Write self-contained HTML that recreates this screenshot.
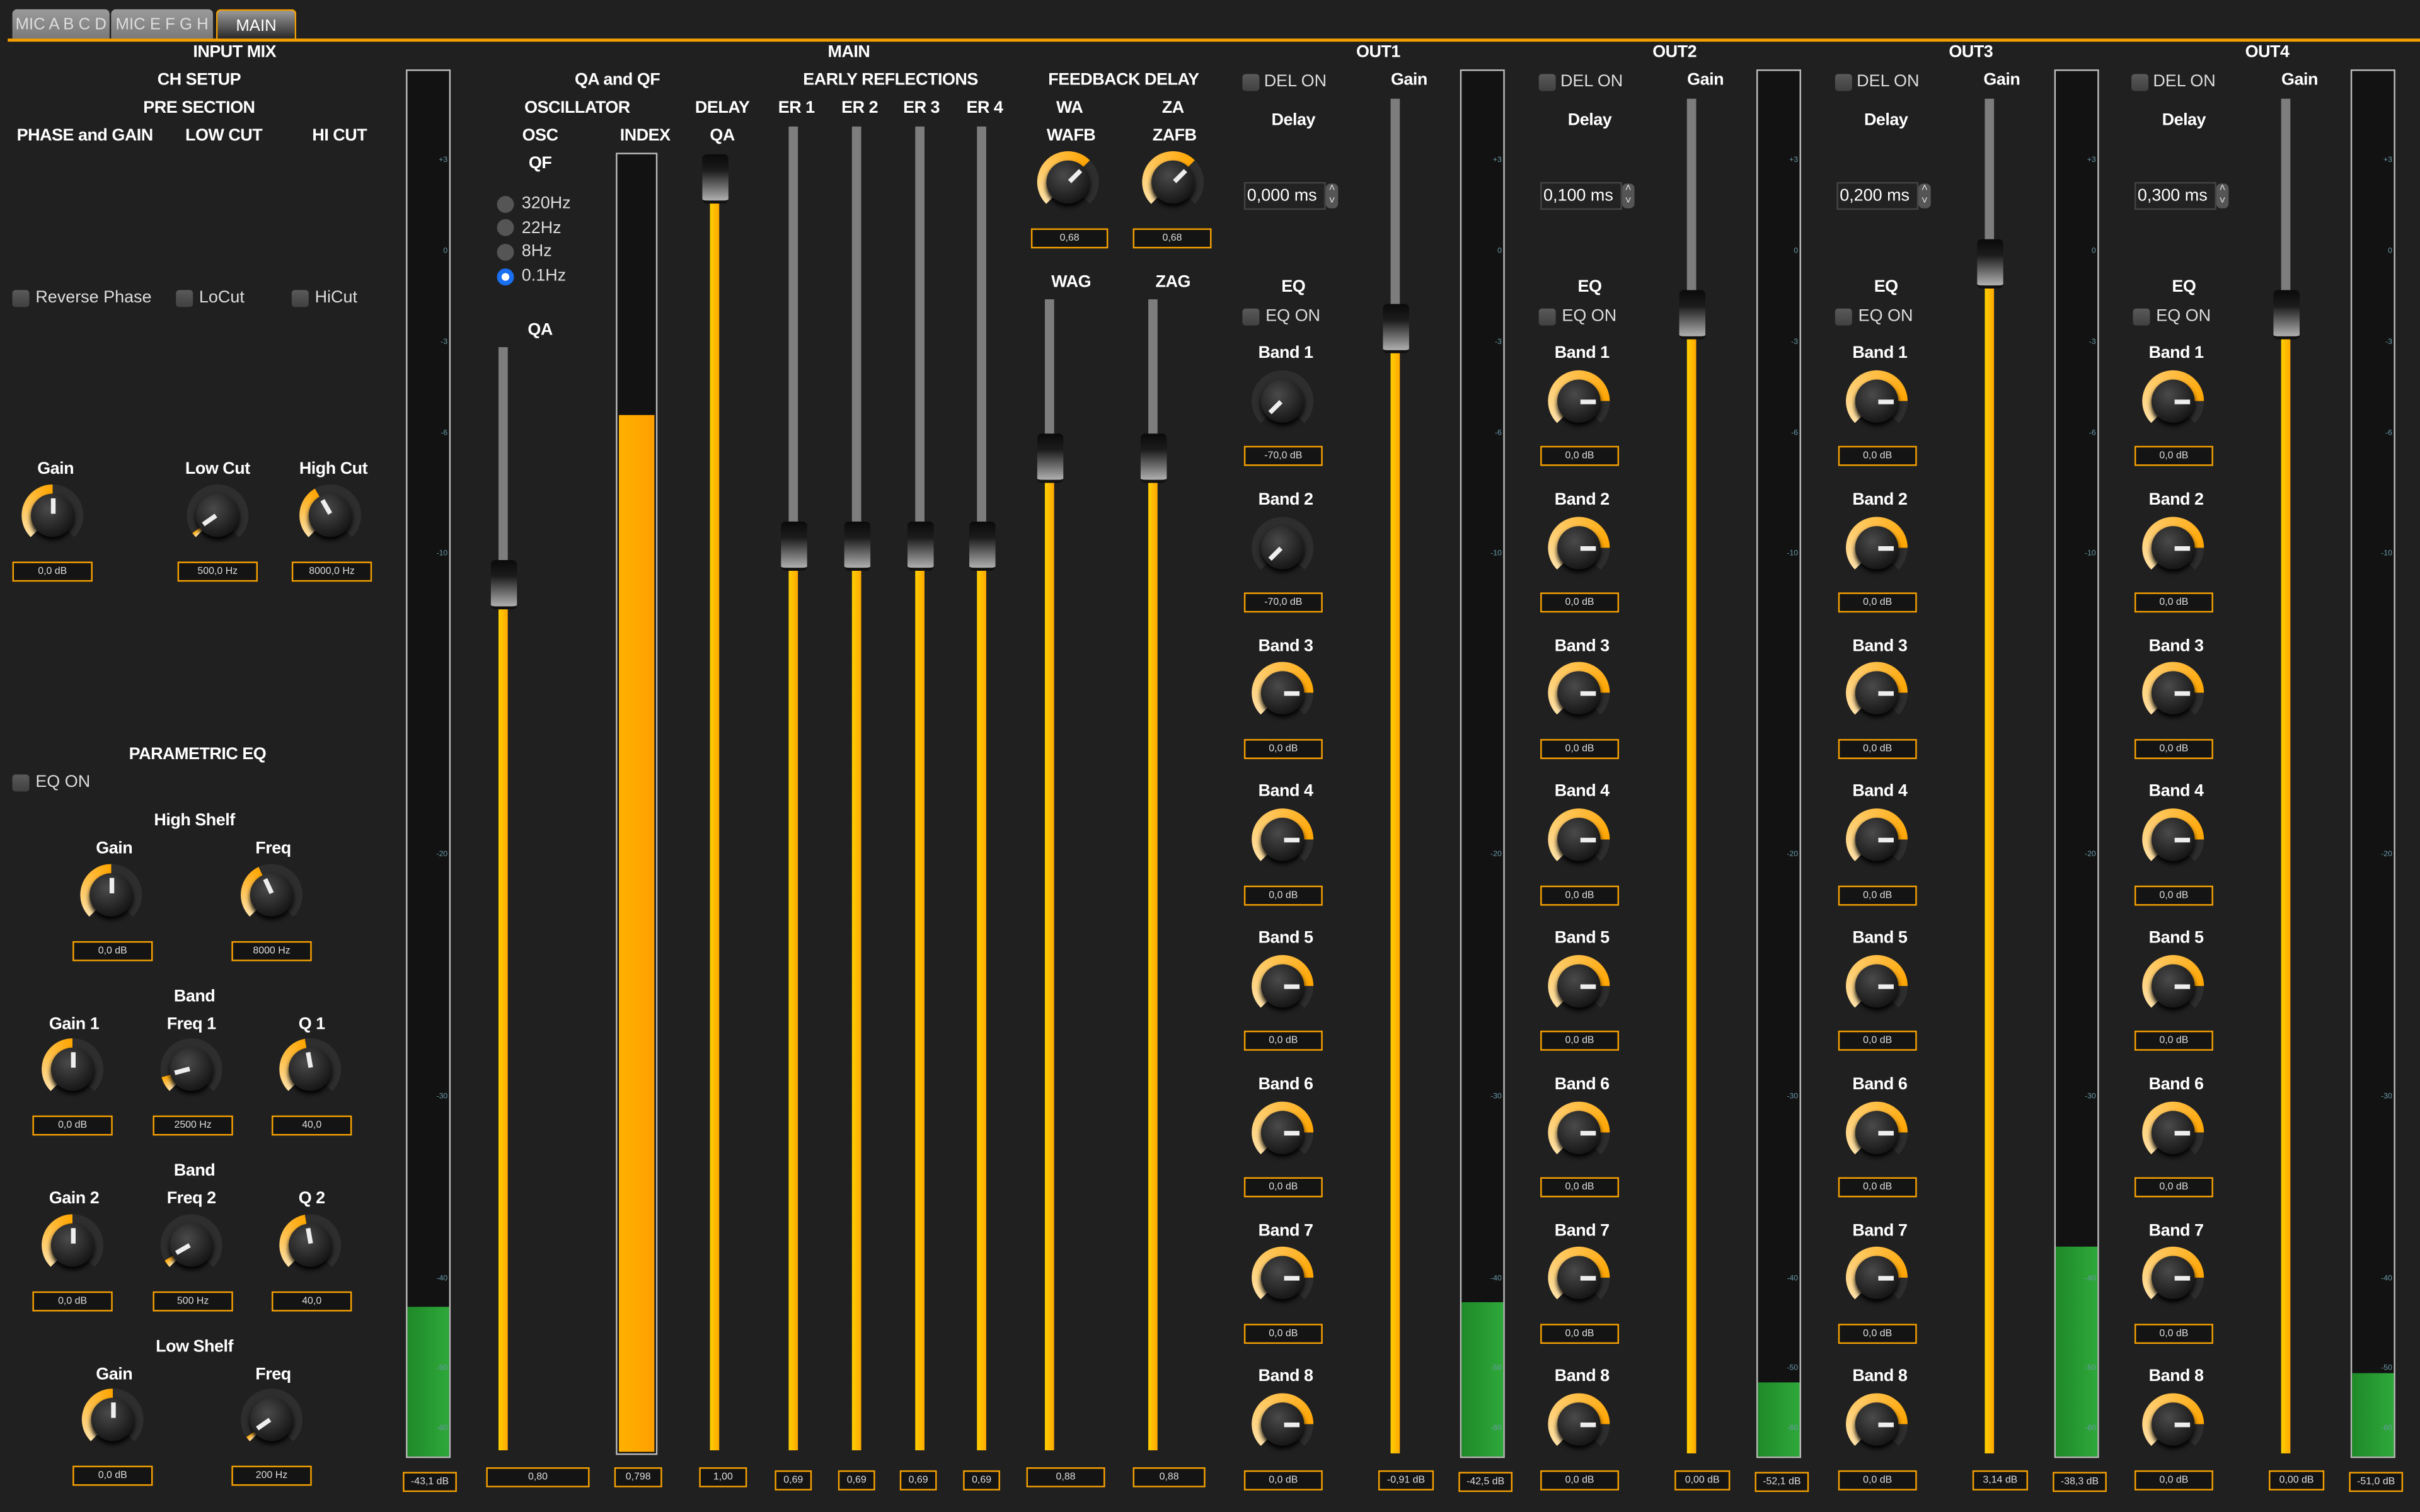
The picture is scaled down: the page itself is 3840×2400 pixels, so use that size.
<!DOCTYPE html>
<html><head><meta charset="utf-8"><style>
html,body{margin:0;padding:0;background:#202020;overflow:hidden}
#r{position:absolute;left:0;top:0;width:1568px;height:980px;transform:scale(2.449);transform-origin:0 0;background:#202020;font-family:"Liberation Sans",sans-serif;color:#fff}
#r div,#r span{position:absolute}
.l{transform:translate(-50%,-50%);font-weight:bold;font-size:11px;white-space:nowrap;letter-spacing:-0.2px}
.b{border:1px solid #f5a000;background:#141414;height:11px;font-size:6.5px;line-height:11px;text-align:center;color:#ddd}
.c{width:11px;height:11px;border-radius:2px;background:linear-gradient(#5a5a5a,#404040)}
.ct{font-size:11px;color:#ddd;white-space:nowrap}
.k{width:40px;height:40px;margin:-20px 0 0 -20px;border-radius:50%;background:conic-gradient(from 225deg,#ffe2a8 0deg,#ffa500 var(--a),#2e2e2e var(--a),#2e2e2e 270deg,transparent 270deg)}
.k::before{content:"";position:absolute;left:6px;top:6px;width:28px;height:28px;border-radius:50%;background:radial-gradient(circle at 40% 35%,#4a4a4a,#161616 75%);box-shadow:0 2px 3px #000}
.k i{position:absolute;left:0;top:0;width:40px;height:40px;transform:rotate(var(--r))}
.k i::after{content:"";position:absolute;left:18.5px;top:9px;width:3px;height:10px;background:#eee}
.tr{width:6px;background:#7d7d7d}
.or{width:6px;background:linear-gradient(90deg,#ffd000,#ffa800)}
.th{width:17px;height:30px;border-radius:3px;background:linear-gradient(#0a0a0a 0%,#1c1c1c 35%,#b0b0b0 100%);border-bottom:2px solid #111}
.m{top:45px;width:29px;height:900px;border:1px solid #bbb;background:#121212;box-sizing:border-box}
.g{left:0;right:0;bottom:0;background:linear-gradient(90deg,#1e8a28,#2fa83a)}
.s{right:1px;font-size:5px;color:#6a9aa8}
.tab{top:6px;height:19px;border-radius:3px 3px 0 0;font-size:10.5px;line-height:21px;text-align:center;color:#ddd;background:linear-gradient(#9a9a9a,#7a7a7a)}
.rb{width:11px;height:11px;border-radius:50%;background:#555}
.sp{height:16px;border:1px solid #444;background:#222;font-size:11px;line-height:16px;color:#fff;padding-left:1px}
</style></head><body><div id="r">
<!-- tabs -->
<div class="tab" style="left:8px;width:63px">MIC A B C D</div>
<div class="tab" style="left:72px;width:66px">MIC E F G H</div>
<div class="tab" style="left:140px;width:50px;border:1px solid #f5a000;border-bottom:none;background:linear-gradient(#9a9a9a,#222);color:#fff">MAIN</div>
<div style="left:5px;top:25px;width:1563px;height:1.5px;background:#f5a000"></div>

<!-- INPUT MIX -->
<div class="l" style="left:152px;top:34px">INPUT MIX</div>
<div class="l" style="left:129px;top:52px">CH SETUP</div>
<div class="l" style="left:129px;top:70px">PRE SECTION</div>
<div class="l" style="left:55px;top:88px">PHASE and GAIN</div>
<div class="l" style="left:145px;top:88px">LOW CUT</div>
<div class="l" style="left:220px;top:88px">HI CUT</div>
<div class="c" style="left:8px;top:188px"></div><div class="ct" style="left:23px;top:187px">Reverse Phase</div>
<div class="c" style="left:114px;top:188px"></div><div class="ct" style="left:129px;top:187px">LoCut</div>
<div class="c" style="left:189px;top:188px"></div><div class="ct" style="left:204px;top:187px">HiCut</div>
<div class="l" style="left:36px;top:304px">Gain</div>
<div class="l" style="left:141px;top:304px">Low Cut</div>
<div class="l" style="left:216px;top:304px">High Cut</div>
<div class="k" style="left:34px;top:334px;--a:135deg;--r:0deg"><i></i></div>
<div class="k" style="left:141px;top:334px;--a:10deg;--r:-125deg"><i></i></div>
<div class="k" style="left:214px;top:334px;--a:105deg;--r:-30deg"><i></i></div>
<div class="b" style="left:8px;top:364px;width:50px">0,0 dB</div>
<div class="b" style="left:115px;top:364px;width:50px">500,0 Hz</div>
<div class="b" style="left:189px;top:364px;width:50px">8000,0 Hz</div>

<div class="l" style="left:128px;top:489px">PARAMETRIC EQ</div>
<div class="c" style="left:8px;top:502px"></div><div class="ct" style="left:23px;top:501px">EQ ON</div>
<div class="l" style="left:126px;top:532px">High Shelf</div>
<div class="l" style="left:74px;top:550px">Gain</div>
<div class="l" style="left:177px;top:550px">Freq</div>
<div class="k" style="left:72px;top:580px;--a:135deg;--r:0deg"><i></i></div>
<div class="k" style="left:176px;top:580px;--a:110deg;--r:-25deg"><i></i></div>
<div class="b" style="left:47px;top:610px;width:50px">0,0 dB</div>
<div class="b" style="left:150px;top:610px;width:50px">8000 Hz</div>

<div class="l" style="left:126px;top:646px">Band</div>
<div class="l" style="left:48px;top:664px">Gain 1</div>
<div class="l" style="left:124px;top:664px">Freq 1</div>
<div class="l" style="left:202px;top:664px">Q 1</div>
<div class="k" style="left:47px;top:693px;--a:135deg;--r:0deg"><i></i></div>
<div class="k" style="left:124px;top:693px;--a:30deg;--r:-105deg"><i></i></div>
<div class="k" style="left:201px;top:693px;--a:125deg;--r:-10deg"><i></i></div>
<div class="b" style="left:21px;top:723px;width:50px">0,0 dB</div>
<div class="b" style="left:99px;top:723px;width:50px">2500 Hz</div>
<div class="b" style="left:176px;top:723px;width:50px">40,0</div>

<div class="l" style="left:126px;top:759px">Band</div>
<div class="l" style="left:48px;top:777px">Gain 2</div>
<div class="l" style="left:124px;top:777px">Freq 2</div>
<div class="l" style="left:202px;top:777px">Q 2</div>
<div class="k" style="left:47px;top:807px;--a:135deg;--r:0deg"><i></i></div>
<div class="k" style="left:124px;top:807px;--a:15deg;--r:-120deg"><i></i></div>
<div class="k" style="left:201px;top:807px;--a:125deg;--r:-10deg"><i></i></div>
<div class="b" style="left:21px;top:837px;width:50px">0,0 dB</div>
<div class="b" style="left:99px;top:837px;width:50px">500 Hz</div>
<div class="b" style="left:176px;top:837px;width:50px">40,0</div>

<div class="l" style="left:126px;top:873px">Low Shelf</div>
<div class="l" style="left:74px;top:891px">Gain</div>
<div class="l" style="left:177px;top:891px">Freq</div>
<div class="k" style="left:73px;top:920px;--a:135deg;--r:0deg"><i></i></div>
<div class="k" style="left:176px;top:920px;--a:10deg;--r:-125deg"><i></i></div>
<div class="b" style="left:47px;top:950px;width:50px">0,0 dB</div>
<div class="b" style="left:150px;top:950px;width:50px">200 Hz</div>

<!-- meter 1 -->
<div class="m" style="left:263px"><div class="g" style="top:801px"></div>
<span class="s" style="top:55px">+3</span><span class="s" style="top:114px">0</span><span class="s" style="top:173px">-3</span><span class="s" style="top:232px">-6</span><span class="s" style="top:310px">-10</span><span class="s" style="top:505px">-20</span><span class="s" style="top:662px">-30</span><span class="s" style="top:780px">-40</span><span class="s" style="top:838px">-50</span><span class="s" style="top:877px">-60</span></div>
<div class="b" style="left:261px;top:954px;width:33px">-43,1 dB</div>

<!-- MAIN -->
<div class="l" style="left:550px;top:34px">MAIN</div>
<div class="l" style="left:400px;top:52px">QA and QF</div>
<div class="l" style="left:374px;top:70px">OSCILLATOR</div>
<div class="l" style="left:468px;top:70px">DELAY</div>
<div class="l" style="left:577px;top:52px">EARLY REFLECTIONS</div>
<div class="l" style="left:728px;top:52px">FEEDBACK DELAY</div>
<div class="l" style="left:516px;top:70px">ER 1</div>
<div class="l" style="left:557px;top:70px">ER 2</div>
<div class="l" style="left:597px;top:70px">ER 3</div>
<div class="l" style="left:638px;top:70px">ER 4</div>
<div class="l" style="left:693px;top:70px">WA</div>
<div class="l" style="left:760px;top:70px">ZA</div>
<div class="l" style="left:350px;top:88px">OSC</div>
<div class="l" style="left:418px;top:88px">INDEX</div>
<div class="l" style="left:468px;top:88px">QA</div>
<div class="l" style="left:694px;top:88px">WAFB</div>
<div class="l" style="left:761px;top:88px">ZAFB</div>
<div class="l" style="left:350px;top:106px">QF</div>
<div class="rb" style="left:322px;top:127px"></div><div class="ct" style="left:338px;top:126px">320Hz</div>
<div class="rb" style="left:322px;top:142px"></div><div class="ct" style="left:338px;top:142px">22Hz</div>
<div class="rb" style="left:322px;top:158px"></div><div class="ct" style="left:338px;top:157px">8Hz</div>
<div class="rb" style="left:322px;top:174px;background:#1a6ff0;box-sizing:border-box;border:3.5px solid #1a6ff0;background-color:#fff"></div><div class="ct" style="left:338px;top:173px">0.1Hz</div>
<div class="l" style="left:350px;top:214px">QA</div>
<div class="tr" style="left:323px;top:225px;height:140px"></div>
<div class="or" style="left:323px;top:393px;height:547px"></div>
<div class="th" style="left:318px;top:363px"></div>
<div class="b" style="left:315px;top:951px;width:65px">0,80</div>
<div style="left:399px;top:99px;width:27px;height:844px;border:1px solid #bbb;box-sizing:border-box;background:#121212"><div style="left:1px;right:1px;bottom:1px;top:169px;background:linear-gradient(90deg,#ffb000,#ffa000)"></div></div>
<div class="b" style="left:398px;top:951px;width:29px">0,798</div>
<div class="or" style="left:460px;top:130px;height:810px"></div>
<div class="th" style="left:455px;top:100px"></div>
<div class="b" style="left:453px;top:951px;width:29px">1,00</div>
<div class="tr" style="left:511px;top:82px;height:258px"></div><div class="or" style="left:511px;top:368px;height:572px"></div><div class="th" style="left:506px;top:338px"></div>
<div class="tr" style="left:552px;top:82px;height:258px"></div><div class="or" style="left:552px;top:368px;height:572px"></div><div class="th" style="left:547px;top:338px"></div>
<div class="tr" style="left:593px;top:82px;height:258px"></div><div class="or" style="left:593px;top:368px;height:572px"></div><div class="th" style="left:588px;top:338px"></div>
<div class="tr" style="left:633px;top:82px;height:258px"></div><div class="or" style="left:633px;top:368px;height:572px"></div><div class="th" style="left:628px;top:338px"></div>
<div class="b" style="left:502px;top:953px;width:22px">0,69</div>
<div class="b" style="left:543px;top:953px;width:22px">0,69</div>
<div class="b" style="left:583px;top:953px;width:22px">0,69</div>
<div class="b" style="left:624px;top:953px;width:22px">0,69</div>
<div class="k" style="left:692px;top:118px;--a:180deg;--r:45deg"><i></i></div>
<div class="k" style="left:760px;top:118px;--a:180deg;--r:45deg"><i></i></div>
<div class="b" style="left:668px;top:148px;width:48px">0,68</div>
<div class="b" style="left:734px;top:148px;width:49px">0,68</div>
<div class="l" style="left:694px;top:183px">WAG</div>
<div class="l" style="left:760px;top:183px">ZAG</div>
<div class="tr" style="left:677px;top:194px;height:89px"></div><div class="or" style="left:677px;top:311px;height:629px"></div><div class="th" style="left:672px;top:281px"></div>
<div class="tr" style="left:744px;top:194px;height:89px"></div><div class="or" style="left:744px;top:311px;height:629px"></div><div class="th" style="left:739px;top:281px"></div>
<div class="b" style="left:665px;top:951px;width:49px">0,88</div>
<div class="b" style="left:734px;top:951px;width:45px">0,88</div>

<!-- OUT1 -->
<div class="l" style="left:893px;top:34px">OUT1</div>
<div class="c" style="left:805px;top:48px"></div><div class="ct" style="left:819px;top:47px">DEL ON</div>
<div class="l" style="left:913px;top:52px">Gain</div>
<div class="l" style="left:838px;top:78px">Delay</div>
<div class="sp" style="left:806px;top:118px;width:50px">0,000 ms</div><div style="left:859px;top:119px;width:8px;height:16px;border-radius:3px;background:#555;font-size:7px;color:#ddd;text-align:center;line-height:8px">˄<br>˅</div>
<div class="l" style="left:838px;top:186px">EQ</div>
<div class="c" style="left:805px;top:200px"></div><div class="ct" style="left:820px;top:199px">EQ ON</div>
<div class="l" style="left:833px;top:229px">Band 1</div><div class="k" style="left:831px;top:260px;--a:0deg;--r:225deg"><i></i></div><div class="b" style="left:806px;top:289px;width:49px">-70,0 dB</div>
<div class="l" style="left:833px;top:324px">Band 2</div><div class="k" style="left:831px;top:355px;--a:0deg;--r:225deg"><i></i></div><div class="b" style="left:806px;top:384px;width:49px">-70,0 dB</div>
<div class="l" style="left:833px;top:419px">Band 3</div><div class="k" style="left:831px;top:449px;--a:225deg;--r:90deg"><i></i></div><div class="b" style="left:806px;top:479px;width:49px">0,0 dB</div>
<div class="l" style="left:833px;top:513px">Band 4</div><div class="k" style="left:831px;top:544px;--a:225deg;--r:90deg"><i></i></div><div class="b" style="left:806px;top:574px;width:49px">0,0 dB</div>
<div class="l" style="left:833px;top:608px">Band 5</div><div class="k" style="left:831px;top:639px;--a:225deg;--r:90deg"><i></i></div><div class="b" style="left:806px;top:668px;width:49px">0,0 dB</div>
<div class="l" style="left:833px;top:703px">Band 6</div><div class="k" style="left:831px;top:734px;--a:225deg;--r:90deg"><i></i></div><div class="b" style="left:806px;top:763px;width:49px">0,0 dB</div>
<div class="l" style="left:833px;top:798px">Band 7</div><div class="k" style="left:831px;top:828px;--a:225deg;--r:90deg"><i></i></div><div class="b" style="left:806px;top:858px;width:49px">0,0 dB</div>
<div class="l" style="left:833px;top:892px">Band 8</div><div class="k" style="left:831px;top:923px;--a:225deg;--r:90deg"><i></i></div><div class="b" style="left:806px;top:953px;width:49px">0,0 dB</div>
<div class="tr" style="left:901px;top:64px;height:135px"></div><div class="or" style="left:901px;top:227px;height:715px"></div><div class="th" style="left:896px;top:197px"></div>
<div class="b" style="left:893px;top:953px;width:34px">-0,91 dB</div>
<div class="m" style="left:946px"><div class="g" style="top:798px"></div>
<span class="s" style="top:55px">+3</span><span class="s" style="top:114px">0</span><span class="s" style="top:173px">-3</span><span class="s" style="top:232px">-6</span><span class="s" style="top:310px">-10</span><span class="s" style="top:505px">-20</span><span class="s" style="top:662px">-30</span><span class="s" style="top:780px">-40</span><span class="s" style="top:838px">-50</span><span class="s" style="top:877px">-60</span></div>
<div class="b" style="left:945px;top:954px;width:33px">-42,5 dB</div>

<!-- OUT2 -->
<div class="l" style="left:1085px;top:34px">OUT2</div>
<div class="c" style="left:997px;top:48px"></div><div class="ct" style="left:1011px;top:47px">DEL ON</div>
<div class="l" style="left:1105px;top:52px">Gain</div>
<div class="l" style="left:1030px;top:78px">Delay</div>
<div class="sp" style="left:998px;top:118px;width:50px">0,100 ms</div><div style="left:1051px;top:119px;width:8px;height:16px;border-radius:3px;background:#555;font-size:7px;color:#ddd;text-align:center;line-height:8px">˄<br>˅</div>
<div class="l" style="left:1030px;top:186px">EQ</div>
<div class="c" style="left:997px;top:200px"></div><div class="ct" style="left:1012px;top:199px">EQ ON</div>
<div class="l" style="left:1025px;top:229px">Band 1</div><div class="k" style="left:1023px;top:260px;--a:225deg;--r:90deg"><i></i></div><div class="b" style="left:998px;top:289px;width:49px">0,0 dB</div>
<div class="l" style="left:1025px;top:324px">Band 2</div><div class="k" style="left:1023px;top:355px;--a:225deg;--r:90deg"><i></i></div><div class="b" style="left:998px;top:384px;width:49px">0,0 dB</div>
<div class="l" style="left:1025px;top:419px">Band 3</div><div class="k" style="left:1023px;top:449px;--a:225deg;--r:90deg"><i></i></div><div class="b" style="left:998px;top:479px;width:49px">0,0 dB</div>
<div class="l" style="left:1025px;top:513px">Band 4</div><div class="k" style="left:1023px;top:544px;--a:225deg;--r:90deg"><i></i></div><div class="b" style="left:998px;top:574px;width:49px">0,0 dB</div>
<div class="l" style="left:1025px;top:608px">Band 5</div><div class="k" style="left:1023px;top:639px;--a:225deg;--r:90deg"><i></i></div><div class="b" style="left:998px;top:668px;width:49px">0,0 dB</div>
<div class="l" style="left:1025px;top:703px">Band 6</div><div class="k" style="left:1023px;top:734px;--a:225deg;--r:90deg"><i></i></div><div class="b" style="left:998px;top:763px;width:49px">0,0 dB</div>
<div class="l" style="left:1025px;top:798px">Band 7</div><div class="k" style="left:1023px;top:828px;--a:225deg;--r:90deg"><i></i></div><div class="b" style="left:998px;top:858px;width:49px">0,0 dB</div>
<div class="l" style="left:1025px;top:892px">Band 8</div><div class="k" style="left:1023px;top:923px;--a:225deg;--r:90deg"><i></i></div><div class="b" style="left:998px;top:953px;width:49px">0,0 dB</div>
<div class="tr" style="left:1093px;top:64px;height:126px"></div><div class="or" style="left:1093px;top:218px;height:724px"></div><div class="th" style="left:1088px;top:188px"></div>
<div class="b" style="left:1085px;top:953px;width:34px">0,00 dB</div>
<div class="m" style="left:1138px"><div class="g" style="top:850px"></div>
<span class="s" style="top:55px">+3</span><span class="s" style="top:114px">0</span><span class="s" style="top:173px">-3</span><span class="s" style="top:232px">-6</span><span class="s" style="top:310px">-10</span><span class="s" style="top:505px">-20</span><span class="s" style="top:662px">-30</span><span class="s" style="top:780px">-40</span><span class="s" style="top:838px">-50</span><span class="s" style="top:877px">-60</span></div>
<div class="b" style="left:1137px;top:954px;width:33px">-52,1 dB</div>

<!-- OUT3 -->
<div class="l" style="left:1277px;top:34px">OUT3</div>
<div class="c" style="left:1189px;top:48px"></div><div class="ct" style="left:1203px;top:47px">DEL ON</div>
<div class="l" style="left:1297px;top:52px">Gain</div>
<div class="l" style="left:1222px;top:78px">Delay</div>
<div class="sp" style="left:1190px;top:118px;width:50px">0,200 ms</div><div style="left:1243px;top:119px;width:8px;height:16px;border-radius:3px;background:#555;font-size:7px;color:#ddd;text-align:center;line-height:8px">˄<br>˅</div>
<div class="l" style="left:1222px;top:186px">EQ</div>
<div class="c" style="left:1189px;top:200px"></div><div class="ct" style="left:1204px;top:199px">EQ ON</div>
<div class="l" style="left:1218px;top:229px">Band 1</div><div class="k" style="left:1216px;top:260px;--a:225deg;--r:90deg"><i></i></div><div class="b" style="left:1191px;top:289px;width:49px">0,0 dB</div>
<div class="l" style="left:1218px;top:324px">Band 2</div><div class="k" style="left:1216px;top:355px;--a:225deg;--r:90deg"><i></i></div><div class="b" style="left:1191px;top:384px;width:49px">0,0 dB</div>
<div class="l" style="left:1218px;top:419px">Band 3</div><div class="k" style="left:1216px;top:449px;--a:225deg;--r:90deg"><i></i></div><div class="b" style="left:1191px;top:479px;width:49px">0,0 dB</div>
<div class="l" style="left:1218px;top:513px">Band 4</div><div class="k" style="left:1216px;top:544px;--a:225deg;--r:90deg"><i></i></div><div class="b" style="left:1191px;top:574px;width:49px">0,0 dB</div>
<div class="l" style="left:1218px;top:608px">Band 5</div><div class="k" style="left:1216px;top:639px;--a:225deg;--r:90deg"><i></i></div><div class="b" style="left:1191px;top:668px;width:49px">0,0 dB</div>
<div class="l" style="left:1218px;top:703px">Band 6</div><div class="k" style="left:1216px;top:734px;--a:225deg;--r:90deg"><i></i></div><div class="b" style="left:1191px;top:763px;width:49px">0,0 dB</div>
<div class="l" style="left:1218px;top:798px">Band 7</div><div class="k" style="left:1216px;top:828px;--a:225deg;--r:90deg"><i></i></div><div class="b" style="left:1191px;top:858px;width:49px">0,0 dB</div>
<div class="l" style="left:1218px;top:892px">Band 8</div><div class="k" style="left:1216px;top:923px;--a:225deg;--r:90deg"><i></i></div><div class="b" style="left:1191px;top:953px;width:49px">0,0 dB</div>
<div class="tr" style="left:1286px;top:64px;height:93px"></div><div class="or" style="left:1286px;top:185px;height:757px"></div><div class="th" style="left:1281px;top:155px"></div>
<div class="b" style="left:1278px;top:953px;width:34px">3,14 dB</div>
<div class="m" style="left:1331px"><div class="g" style="top:762px"></div>
<span class="s" style="top:55px">+3</span><span class="s" style="top:114px">0</span><span class="s" style="top:173px">-3</span><span class="s" style="top:232px">-6</span><span class="s" style="top:310px">-10</span><span class="s" style="top:505px">-20</span><span class="s" style="top:662px">-30</span><span class="s" style="top:780px">-40</span><span class="s" style="top:838px">-50</span><span class="s" style="top:877px">-60</span></div>
<div class="b" style="left:1330px;top:954px;width:33px">-38,3 dB</div>

<!-- OUT4 -->
<div class="l" style="left:1469px;top:34px">OUT4</div>
<div class="c" style="left:1381px;top:48px"></div><div class="ct" style="left:1395px;top:47px">DEL ON</div>
<div class="l" style="left:1490px;top:52px">Gain</div>
<div class="l" style="left:1415px;top:78px">Delay</div>
<div class="sp" style="left:1383px;top:118px;width:50px">0,300 ms</div><div style="left:1436px;top:119px;width:8px;height:16px;border-radius:3px;background:#555;font-size:7px;color:#ddd;text-align:center;line-height:8px">˄<br>˅</div>
<div class="l" style="left:1415px;top:186px">EQ</div>
<div class="c" style="left:1382px;top:200px"></div><div class="ct" style="left:1397px;top:199px">EQ ON</div>
<div class="l" style="left:1410px;top:229px">Band 1</div><div class="k" style="left:1408px;top:260px;--a:225deg;--r:90deg"><i></i></div><div class="b" style="left:1383px;top:289px;width:49px">0,0 dB</div>
<div class="l" style="left:1410px;top:324px">Band 2</div><div class="k" style="left:1408px;top:355px;--a:225deg;--r:90deg"><i></i></div><div class="b" style="left:1383px;top:384px;width:49px">0,0 dB</div>
<div class="l" style="left:1410px;top:419px">Band 3</div><div class="k" style="left:1408px;top:449px;--a:225deg;--r:90deg"><i></i></div><div class="b" style="left:1383px;top:479px;width:49px">0,0 dB</div>
<div class="l" style="left:1410px;top:513px">Band 4</div><div class="k" style="left:1408px;top:544px;--a:225deg;--r:90deg"><i></i></div><div class="b" style="left:1383px;top:574px;width:49px">0,0 dB</div>
<div class="l" style="left:1410px;top:608px">Band 5</div><div class="k" style="left:1408px;top:639px;--a:225deg;--r:90deg"><i></i></div><div class="b" style="left:1383px;top:668px;width:49px">0,0 dB</div>
<div class="l" style="left:1410px;top:703px">Band 6</div><div class="k" style="left:1408px;top:734px;--a:225deg;--r:90deg"><i></i></div><div class="b" style="left:1383px;top:763px;width:49px">0,0 dB</div>
<div class="l" style="left:1410px;top:798px">Band 7</div><div class="k" style="left:1408px;top:828px;--a:225deg;--r:90deg"><i></i></div><div class="b" style="left:1383px;top:858px;width:49px">0,0 dB</div>
<div class="l" style="left:1410px;top:892px">Band 8</div><div class="k" style="left:1408px;top:923px;--a:225deg;--r:90deg"><i></i></div><div class="b" style="left:1383px;top:953px;width:49px">0,0 dB</div>
<div class="tr" style="left:1478px;top:64px;height:126px"></div><div class="or" style="left:1478px;top:218px;height:724px"></div><div class="th" style="left:1473px;top:188px"></div>
<div class="b" style="left:1470px;top:953px;width:34px">0,00 dB</div>
<div class="m" style="left:1523px"><div class="g" style="top:844px"></div>
<span class="s" style="top:55px">+3</span><span class="s" style="top:114px">0</span><span class="s" style="top:173px">-3</span><span class="s" style="top:232px">-6</span><span class="s" style="top:310px">-10</span><span class="s" style="top:505px">-20</span><span class="s" style="top:662px">-30</span><span class="s" style="top:780px">-40</span><span class="s" style="top:838px">-50</span><span class="s" style="top:877px">-60</span></div>
<div class="b" style="left:1522px;top:954px;width:33px">-51,0 dB</div>
</div></body></html>
